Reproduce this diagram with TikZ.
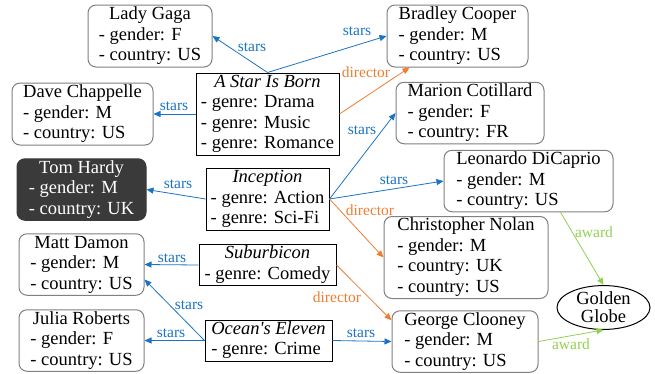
\documentclass[tikz,border=0pt]{standalone}
\usepackage{fontspec}
\setmainfont{Liberation Serif}[Ligatures=TeXOff]
\usetikzlibrary{arrows.meta,shapes.geometric,calc}
\definecolor{cblue}{HTML}{1A73C4}
\definecolor{corange}{HTML}{ED7D31}
\definecolor{cgreen}{HTML}{92D050}
\definecolor{cdark}{HTML}{3A3A3A}
\definecolor{cgray}{HTML}{808080}
\newcommand{\ent}[2]{\begin{tabular}{@{}l@{}}\multicolumn{1}{@{}c@{}}{#1}\\#2\end{tabular}}
\tikzset{
  person/.style={draw=cgray, line width=1pt, rounded corners=8pt, inner sep=0pt,
    font=\fontsize{18.5}{20.5}\selectfont},
  movie/.style={draw=black, line width=1pt, inner sep=0pt,
    font=\fontsize{18.5}{20.5}\selectfont},
  darkperson/.style={person, draw=cdark, fill=cdark, text=white},
  award/.style={draw=black, line width=1pt, ellipse, inner sep=0pt, align=center,
    font=\fontsize{18.5}{18}\selectfont},
  box/.style 2 args={minimum width=#1pt, minimum height=#2pt},
  rel/.style={line width=0.8pt, -{Triangle[length=7pt,width=6pt]}},
  stars/.style={rel, draw=cblue},
  director/.style={rel, draw=corange},
  awarded/.style={rel, draw=cgreen},
  lbl/.style={font=\fontsize{15.5}{16}\selectfont, inner sep=0pt},
}
\begin{document}
\begin{tikzpicture}[x=1pt,y=-1pt]
\useasboundingbox (0,0) rectangle (655,373);
% people
\node[person, box={124}{62}] (lg) at (150,36) {\ent{Lady Gaga}{- gender: F\\- country: US}};
\node[person, box={141}{62}] (dc) at (82.5,114) {\ent{Dave Chappelle}{- gender: M\\- country: US}};
\node[darkperson, box={129}{61}] (th) at (81.5,189.5) {\ent{Tom Hardy}{- gender: M\\- country: UK}};
\node[person, box={141}{62}] (bc) at (457.5,36) {\ent{Bradley Cooper}{- gender: M\\- country: US}};
\node[person, box={148}{61}] (mc) at (470,113) {\ent{Marion Cotillard}{- gender: F\\- country: FR}};
\node[person, box={169}{61}] (ld) at (528.5,181) {\ent{Leonardo DiCaprio}{- gender: M\\- country: US}};
\node[person, box={164}{82}] (cn) at (466,257.5) {\ent{Christopher Nolan}{- gender: M\\- country: UK\\- country: US}};
\node[person, box={125}{61}] (md) at (81.5,264.5) {\ent{Matt Damon}{- gender: M\\- country: US}};
\node[person, box={125}{61}] (jr) at (81.5,340.5) {\ent{Julia Roberts}{- gender: F\\- country: US}};
\node[person, box={146}{61}] (gc) at (465,341.5) {\ent{George Clooney}{- gender: M\\- country: US}};
% movies
\node[movie, box={143}{82}] (asib) at (267.5,114) {\ent{\itshape A Star Is Born}{- genre: Drama\\- genre: Music\\- genre: Romance}};
\node[movie, box={123}{62}] (inc) at (267.5,199) {\ent{\itshape Inception}{- genre: Action\\- genre: Sci-Fi}};
\node[movie, box={137}{41}] (sub) at (267.5,265) {\ent{\itshape Suburbicon}{- genre: Comedy}};
\node[movie, box={127}{41}] (oe) at (268.5,340.5) {\ent{\itshape Ocean's Eleven}{- genre: Crime}};
% award
\node[award, box={93}{43}] (gg) at (603.5,307.5) {Golden\\Globe};
% connectors
\draw[stars] (asib.north) -- (lg.east) node[lbl, text=cblue] (l1) at (252,47) {stars};
\draw[stars] (asib.north) -- (bc.west) node[lbl, text=cblue] (l2) at (357,31) {stars};
\draw[stars] (asib.west) -- (dc.east) node[lbl, text=cblue] (l3) at (174,106) {stars};
\draw[director] (asib.east) -- ([xshift=23pt]bc.south west) node[lbl, text=corange] (l4) at (366,72) {director};
\draw[stars] (inc.west) -- (th.east) node[lbl, text=cblue] (l5) at (178,184) {stars};
\draw[stars] (inc.east) -- (mc.west) node[lbl, text=cblue] (l6) at (362,130) {stars};
\draw[stars] (inc.east) -- (ld.west) node[lbl, text=cblue] (l7) at (394,180) {stars};
\draw[director] (inc.east) -- (cn.west) node[lbl, text=corange] (l8) at (370,210) {director};
\draw[stars] (sub.west) -- (md.east) node[lbl, text=cblue] (l9) at (172,258) {stars};
\draw[director] (sub.east) -- ([yshift=-10pt]gc.north west) node[lbl, text=corange] (l10) at (337,297) {director};
\draw[stars] (oe.west) -- ([yshift=-15pt]md.east) node[lbl, text=cblue] (l11) at (189,305) {stars};
\draw[stars] (oe.west) -- (jr.east) node[lbl, text=cblue] (l12) at (171,333) {stars};
\draw[stars] (oe.east) -- (gc.west) node[lbl, text=cblue] (l13) at (361,333) {stars};
\draw[awarded] ([xshift=-53pt]ld.south east) -- (gg.north) node[lbl, text=cgreen] (l14) at (594,232) {award};
\draw[awarded] (gc.east) -- (gg.south) node[lbl, text=cgreen] (l15) at (571,344) {award};
\end{tikzpicture}
\end{document}
